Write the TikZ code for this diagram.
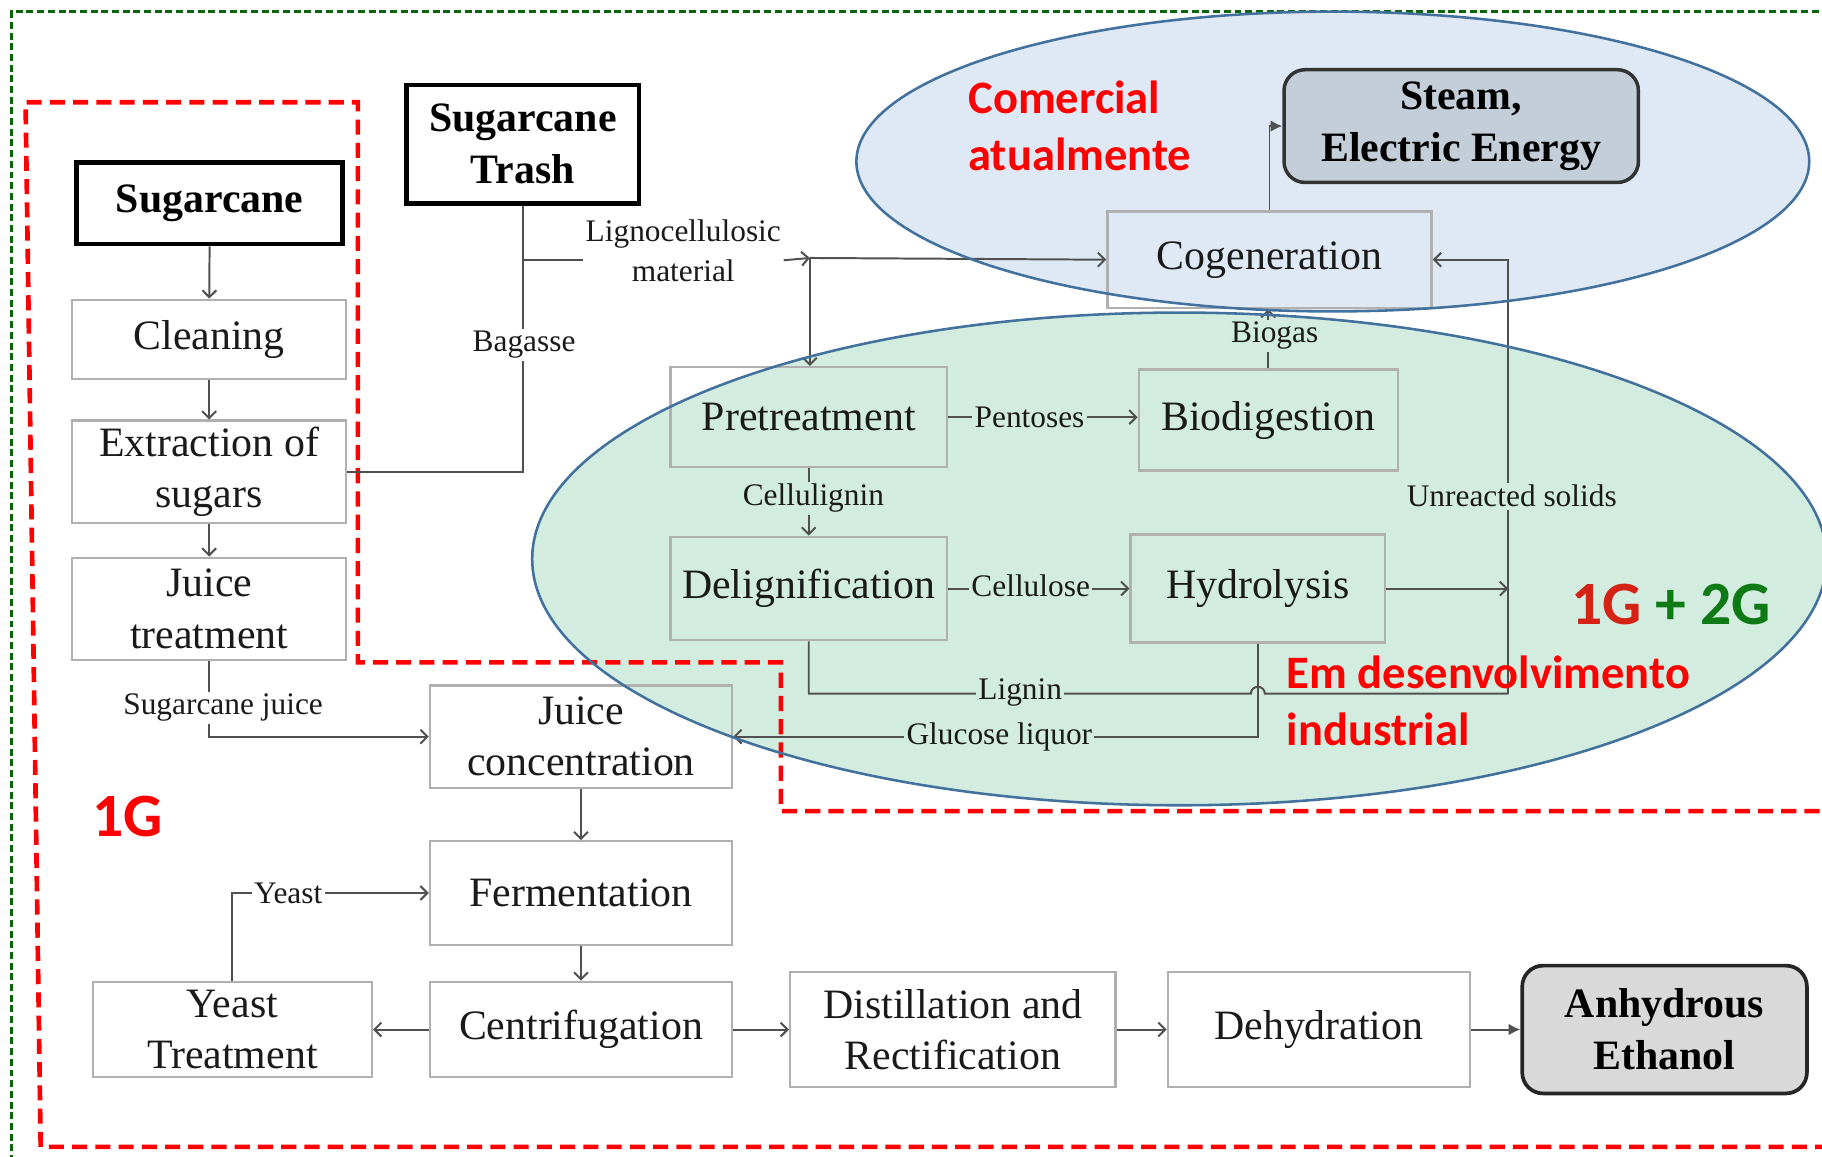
\documentclass[tikz,border=0pt]{standalone}
\usepackage{fontspec}
\setmainfont{Liberation Serif}
\newfontfamily\carlito{Carlito}
\usetikzlibrary{arrows.meta}
\definecolor{boxgray}{HTML}{B0B0B0}
\definecolor{linegray}{HTML}{505050}
\definecolor{txt}{HTML}{1A1A1A}
\definecolor{bluefill}{HTML}{DFE9F5}
\definecolor{greenfill}{HTML}{D2EDDF}
\definecolor{ellline}{HTML}{41719C}
\definecolor{steamfill}{HTML}{C3CED8}
\definecolor{ethgray}{HTML}{D9D9D9}
\definecolor{darkred}{HTML}{D42215}
\definecolor{darkgreen}{HTML}{0E7A16}
\definecolor{dashgreen}{HTML}{0A650A}
\tikzset{
  wh/.style 2 args={minimum width={#1*0.5pt},minimum height={#2*0.5pt}},
  proc/.style={draw=boxgray, line width=1pt, inner sep=0pt, align=center, text=txt, font=\fontsize{18}{22}\selectfont},
  heavy/.style={draw=black, line width=2pt, inner sep=0pt, align=center, text=black, font=\fontsize{18}{22.5}\selectfont\bfseries},
  conn/.style={draw=linegray, line width=0.85pt},
  arr/.style={conn, -{Straight Barb[length=3pt,width=6pt]}},
  farr/.style={conn, -{Latex[length=5pt,width=5pt]}},
  lbl/.style={font=\fontsize{13.5}{17}\selectfont, inner sep=1pt, text=txt, align=center},
  wl/.style={lbl, fill=white},
  gl/.style={lbl, fill=greenfill},
  redtxt/.style={font=\carlito\bfseries\fontsize{20}{24.5}\selectfont, text=red, align=left, inner sep=0pt},
  bigtxt/.style={font=\carlito\bfseries\fontsize{26.5}{30}\selectfont, inner sep=0pt},
  ell/.style={draw=ellline, line width=1.1pt},
}
\begin{document}
\begin{tikzpicture}[x=0.5pt,y=-0.5pt]
\useasboundingbox (0,0) rectangle (1568,995);
\fill[white] (0,0) rectangle (1568,995);
% ellipse fills
\fill[bluefill] (1147,139) ellipse [x radius=410, y radius=129];
\fill[greenfill] (1015,481) ellipse [x radius=557, y radius=212];
% dashed regions
\draw[dashgreen, line width=1pt, dash pattern=on 3pt off 1.6pt] (10,1000) -- (10,10) -- (1575,10);
\draw[red, line width=2pt, dash pattern=on 6.5pt off 3.5pt] (1575,987) -- (35,987) -- (22,88) -- (308,88) -- (308,570) -- (672,570) -- (672,698) -- (1575,698);

% nodes
\node[heavy, wh={229}{70}] (cane) at (180.5,175) {Sugarcane};
\node[heavy, wh={200}{102}] (trash) at (450,124) {Sugarcane\\Trash};
\node[proc, wh={236}{68}] (clean) at (180,292) {Cleaning};
\node[proc, wh={236}{88}] (extract) at (180,406) {Extraction of\\sugars};
\node[proc, wh={236}{88}] (juicet) at (180,524) {Juice\\treatment};
\node[proc, wh={260}{88}] (juicec) at (500,634) {Juice\\concentration};
\node[proc, wh={260}{89}] (ferm) at (500,768.5) {Fermentation};
\node[proc, wh={260}{82}] (centr) at (500,886) {Centrifugation};
\node[proc, wh={240}{82}] (yeastt) at (200,886) {Yeast\\Treatment};
\node[proc, wh={280}{99}] (dist) at (820,886) {Distillation and\\Rectification};
\node[proc, wh={260}{99}] (dehyd) at (1135,886) {Dehydration};
\node[heavy, draw=black!85, line width=1.6pt, rounded corners=9pt, fill=ethgray, wh={245}{110}] (eth) at (1432.5,886) {Anhydrous\\Ethanol};
\node[heavy, draw=black!80, line width=1.5pt, rounded corners=9pt, fill=steamfill, wh={305}{97}] (steam) at (1257.5,108.5) {Steam,\\Electric Energy};
\node[proc, wh={279}{83}] (cogen) at (1092.5,223.5) {Cogeneration};
\node[proc, wh={238}{86}] (pretr) at (696,359) {Pretreatment};
\node[proc, wh={223}{87}] (biodig) at (1091.5,361.5) {Biodigestion};
\node[proc, wh={238}{89}] (delig) at (696,506.5) {Delignification};
\node[proc, wh={219}{93}] (hydro) at (1082.5,506.5) {Hydrolysis};

% left column
\draw[arr] (cane) -- (clean);
\draw[arr] (clean) -- (extract);
\draw[arr] (extract) -- (juicet);
\draw[conn] (extract.east) -| (trash.south);
\node[wl] (baglbl) at (451,297) {Bagasse};
\path (trash.south) ++(0,47) coordinate (lj);
\node[lbl] (lig) at (588,216) {Lignocellulosic\\material};
\coordinate (split) at (697,222);
\draw[conn] (lj) -- (lj -| lig.west);
\draw[arr] (lj -| lig.east) -- (split);
\draw[arr] (split) -- (cogen.west);
\draw[arr] (split) -- (split |- pretr.north);

% cogeneration area
\draw[farr] (cogen.north) |- (steam.west);
\draw[arr] (biodig.north) -- (biodig.north |- cogen.south);
\node[gl] at (1097,289) {Biogas};
\draw[arr] (pretr.east) -- (pretr.east -| biodig.west);
\node[gl] at (886,359) {Pentoses};
\draw[arr] (pretr.south) -- (delig.north);
\node[gl] at (700,429) {Cellulignin};
\draw[arr] (delig.east) -- (delig.east -| hydro.west);
\node[gl] at (887,504) {Cellulose};
\coordinate (vx) at (1298,597);
\draw[arr] (hydro.east) -- (hydro.east -| vx);
\draw[arr] (vx) |- (cogen.east);
\node[gl] at (1301,427) {Unreacted solids};
\coordinate (hop) at (hydro.south |- vx);
\draw[conn] (delig.south) |- ([xshift=-3pt]hop) arc[start angle=180, end angle=360, radius=6] -- (vx);
\node[gl] at (878,596) {Lignin};
\draw[arr] (hydro.south) |- (juicec.east);
\node[gl] at (860,634) {Glucose liquor};

% 1G chain
\draw[arr] (juicet.south) |- (juicec.west);
\node[wl] at (192,609) {Sugarcane juice};
\draw[arr] (juicec) -- (ferm);
\draw[arr] (ferm) -- (centr);
\draw[arr] (centr) -- (yeastt);
\draw[arr] (yeastt.north) |- (ferm.west);
\node[wl] at (248,769) {Yeast};
\draw[arr] (centr) -- (dist);
\draw[arr] (dist) -- (dehyd);
\draw[farr] (dehyd) -- (eth);

% ellipse outlines
\draw[ell] (1147,139) ellipse [x radius=410, y radius=129];
\draw[ell] (1015,481) ellipse [x radius=557, y radius=212];

% red labels
\node[redtxt, anchor=west] (com) at (833,108) {Comercial\\atualmente};
\node[redtxt, anchor=west] (emd) at (1107,603) {Em desenvolvimento\\industrial};
\node[bigtxt, text=red] (g1) at (110,703) {1G};
\node[bigtxt, anchor=west] (g12) at (1352,520) {\textcolor{darkred}{1G} \textcolor{darkgreen}{+ 2G}};
\end{tikzpicture}
\end{document}
